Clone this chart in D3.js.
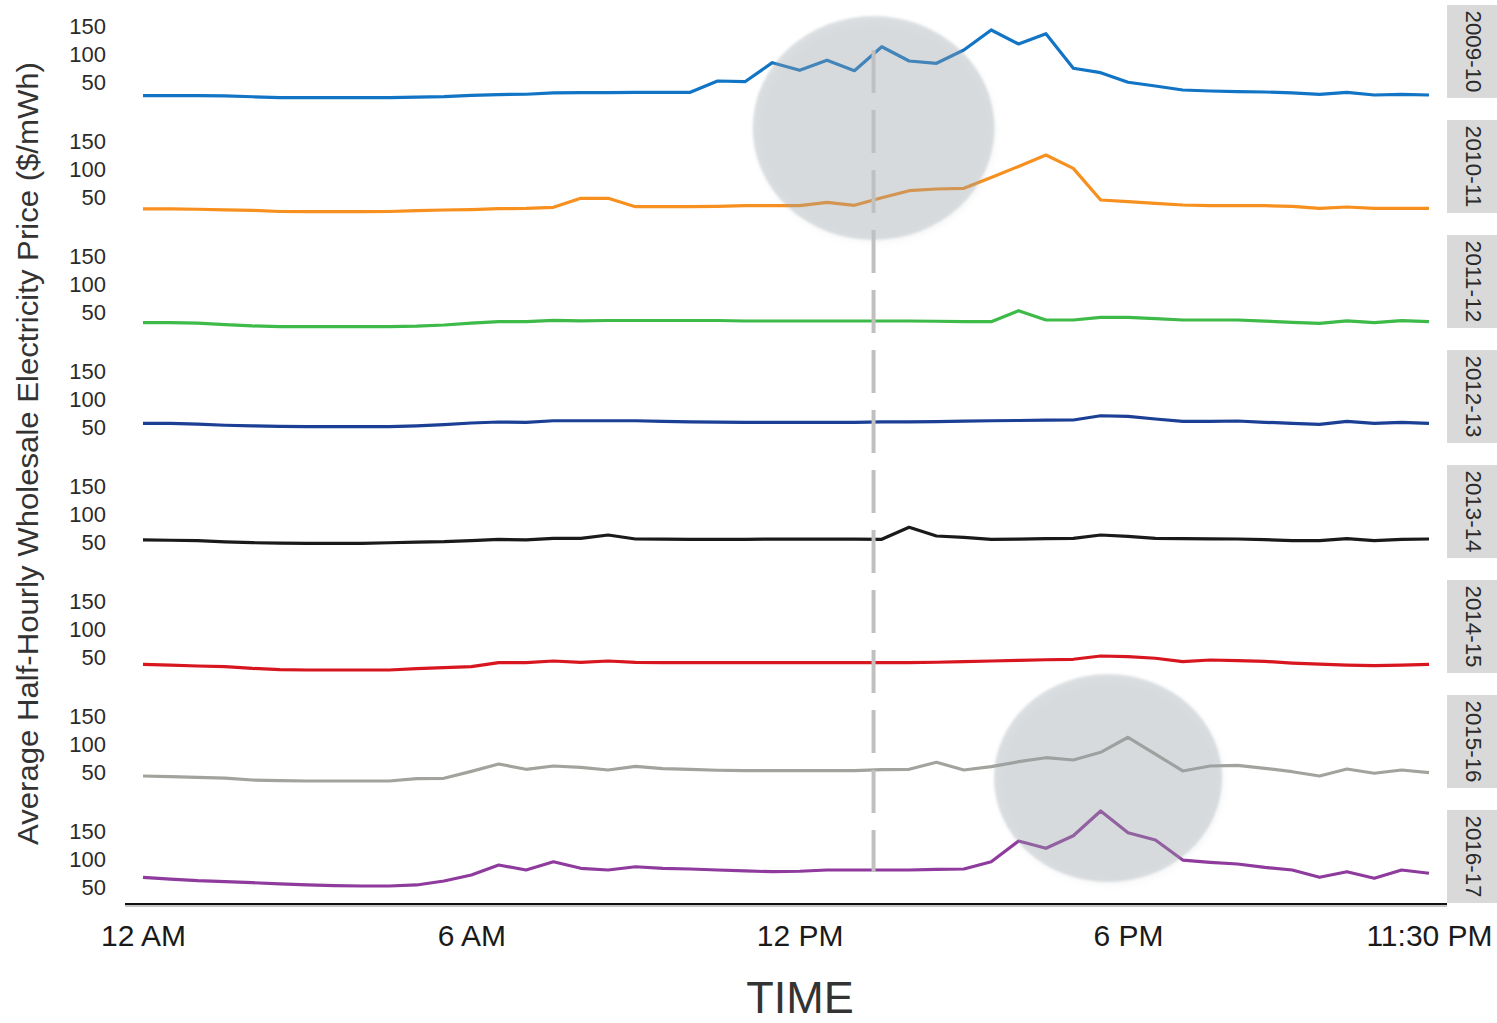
<!DOCTYPE html>
<html>
<head>
<meta charset="utf-8">
<script src="https://cdn.jsdelivr.net/npm/d3@7"></script>
<style>
  html, body { margin: 0; padding: 0; background: #ffffff; }
  svg { display: block; }
  text { font-family: "Liberation Sans", Arial, sans-serif; }
</style>
</head>
<body>
<svg id="chart" width="1497" height="1023"></svg>
<script>
// ---------------- DATA ----------------
const years = ["2009-10", "2010-11", "2011-12", "2012-13", "2013-14", "2014-15", "2015-16", "2016-17"];
const colors = ["#1274c4", "#f7901e", "#3dba48", "#1b3f94", "#1a1a1a", "#d7161f", "#a3a39d", "#8e3b9d"];

// 48 half-hourly averages (12:00 AM ... 11:30 PM), $/MWh
const price2009 = [26.4, 26.4, 26.4, 26, 24.5, 23, 23, 23, 23, 23, 24, 24.6, 27, 28.5, 29, 31.5, 32, 32, 32.5, 32.5,
  32.5, 52.7, 51.4, 85.4, 71.8, 89.6, 71.1, 113.9, 88.4, 84.3, 108, 143.8, 118.8, 137.1, 75.4, 67.5, 50.4, 43.7, 36.6, 34.8,
  33.6, 33, 31.3, 28.9, 32.5, 27.7, 28.9, 27.7];
const price2010 = [29.5, 29.5, 29, 28, 27, 25, 24.6, 24.6, 24.6, 25, 26.5, 27.7, 28.5, 30, 30.5, 32.5, 48.6, 48.6, 33.6, 33.6,
  33.6, 34, 35.4, 35.4, 35.4, 41.4, 36, 49.6, 62.1, 65.2, 66.4, 85.7, 105.5, 125.9, 102, 45.5, 42.5, 39.6, 36.6, 35.4,
  35.4, 35.4, 34, 30.7, 33, 30.7, 30.7, 30.7];
const price2011 = [31.8, 31.8, 31, 28.5, 26, 24.6, 24.6, 24.6, 24.6, 24.6, 25.5, 27.7, 31, 33.6, 33.6, 36, 35, 35.7, 35.7, 35.7,
  35.7, 35.7, 34.8, 34.8, 34.8, 34.8, 34.8, 34.8, 34.8, 34.4, 33.6, 33.6, 53.2, 36.6, 36.6, 41.4, 41.4, 39, 36.6, 36.6,
  36.6, 34.5, 32.5, 30.7, 35, 32, 35.4, 33.6];
const price2012 = [57.5, 57.5, 56, 54, 53, 52, 51.4, 51.4, 51.4, 51.4, 53, 55, 58, 59.8, 59, 62, 62, 62, 62, 61,
  60, 59.5, 59.3, 59.3, 59.3, 59.3, 59.3, 60, 60, 60.5, 61.5, 62, 62.5, 63, 63.4, 71, 70, 65.2, 61, 61,
  61.6, 59.3, 57.5, 55.7, 61, 57.5, 59, 57.5];
const price2013 = [54.5, 54, 53.2, 51, 49.6, 49, 48.5, 48.5, 48.5, 49.5, 50.5, 51.4, 53.5, 55.7, 54.5, 57.5, 57.5, 63.4, 56.2, 56,
  55.7, 55.7, 55.7, 56, 56, 56, 56, 55.7, 77.1, 61.6, 59, 55.7, 56, 57, 57.5, 63.4, 61, 57.5, 57, 56.5,
  56.2, 55, 53.5, 53.2, 56.8, 53.2, 55.5, 56.2];
const price2014 = [37.8, 36.5, 34.8, 33.6, 30.5, 28.5, 27.7, 27.7, 27.7, 27.7, 30, 31.8, 33.6, 40.7, 40.7, 43.7, 41.4, 43.7, 41.4, 41,
  40.7, 40.7, 40.7, 40.7, 40.7, 40.7, 40.7, 41, 41, 41.5, 42.5, 43.7, 45, 46, 46.8, 52.7, 51.4, 48.6, 42.5, 45.5,
  44.5, 43, 40, 38, 36.5, 35.4, 36.5, 37.8];
const price2015 = [43.7, 42.5, 41.4, 40, 36.6, 35.5, 34.8, 34.8, 34.8, 34.8, 39, 39.6, 52, 65.2, 55.7, 61.6, 59.3, 54.5, 61, 57,
  55.5, 54, 53.5, 53.2, 53.2, 53.2, 53.2, 55, 55.7, 68.2, 54.5, 60.4, 69.3, 76.4, 72.3, 86, 112.9, 83, 52.7, 61.6,
  62.8, 57.5, 51.4, 43.7, 56.2, 48.6, 54.5, 49.6];
const price2016 = [68.2, 65, 62.1, 60.5, 58.6, 56.5, 54.5, 53.5, 52.7, 52.7, 54.5, 61.6, 72.3, 90.2, 81.2, 96, 84.3, 81.2, 87, 84.3,
  83, 81.2, 79.5, 78.2, 79, 81.2, 81.2, 81.2, 81.2, 82.5, 83, 96, 133, 120, 142.5, 186.6, 147.9, 134.8, 99, 95,
  92, 86, 81.2, 68.2, 78.2, 66.4, 81.2, 75.4];

const seriesValues = [price2009, price2010, price2011, price2012, price2013, price2014, price2015, price2016];

const yTickValues = [50, 100, 150];
const xTickIndex = [0, 12, 24, 36, 47];
const xTickLabels = ["12 AM", "6 AM", "12 PM", "6 PM", "11:30 PM"];

// annotation: dashed marker (in half-hour index units) and highlight ellipses
const markerIndex = 26.7;
const highlights = [
  { t: 26.7, tr: 4.42, cy: 128, ry: 112 },
  { t: 35.27, tr: 4.17, cy: 778, ry: 104 }
];

// ---------------- LAYOUT ----------------
const svg = d3.select("#chart");
const panelTop0 = 5, panelH = 93, panelPitch = 115;
const plotLeft = 125, plotRight = 1447;

const x = d3.scaleLinear().domain([0, 47]).range([143, 1429]);
const yDomain = [22.3, 188.4];

const defs = svg.append("defs");
const blur = defs.append("filter").attr("id", "soft").attr("x", "-20%").attr("y", "-20%").attr("width", "140%").attr("height", "140%");
blur.append("feGaussianBlur").attr("stdDeviation", 1.0);
const shadow = defs.append("filter").attr("id", "shadow").attr("x", "-20%").attr("y", "-20%").attr("width", "140%").attr("height", "140%");
shadow.append("feGaussianBlur").attr("stdDeviation", 3);

const line = d3.line().x((d, i) => x(i));

years.forEach((yr, p) => {
  const top = panelTop0 + p * panelPitch;
  const y = d3.scaleLinear().domain(yDomain).range([top + panelH, top]);

  // y axis
  const ax = svg.append("g")
    .attr("transform", `translate(110,0)`)
    .call(d3.axisLeft(y).tickValues(yTickValues).tickSize(0).tickPadding(4));
  ax.select(".domain").remove();
  ax.selectAll("text")
    .attr("font-size", 22)
    .attr("fill", "#2b2b2b")
    .style("font-family", "'Liberation Sans', Arial, sans-serif");

  // strip
  svg.append("rect")
    .attr("x", plotRight).attr("y", top)
    .attr("width", 1497 - plotRight).attr("height", panelH)
    .attr("fill", "#d9d9d9");
  svg.append("text")
    .attr("transform", `translate(${plotRight + 19},${top + panelH / 2}) rotate(90)`)
    .attr("text-anchor", "middle")
    .attr("font-size", 22)
    .attr("fill", "#2b2b2b")
    .attr("textLength", 82)
    .attr("lengthAdjust", "spacingAndGlyphs")
    .text(yr);

  // series line
  svg.append("path")
    .datum(seriesValues[p])
    .attr("fill", "none")
    .attr("stroke", colors[p])
    .attr("stroke-width", 3.2)
    .attr("stroke-linejoin", "round")
    .attr("d", line.y(d => y(d)));
});

// highlight ellipses (on top, translucent)
highlights.forEach(h => {
  const cx = x(h.t);
  const rx = x(h.t + h.tr) - cx;
  svg.append("ellipse")
    .attr("cx", cx + 2).attr("cy", h.cy + 3)
    .attr("rx", rx).attr("ry", h.ry)
    .attr("fill", "#8a9094").attr("opacity", 0.07)
    .attr("filter", "url(#shadow)");
  svg.append("ellipse")
    .attr("cx", cx).attr("cy", h.cy)
    .attr("rx", rx).attr("ry", h.ry)
    .attr("fill", "#9ba4ab").attr("opacity", 0.33)
    .attr("filter", "url(#soft)");
});

// dashed marker line
svg.append("line")
  .attr("x1", x(markerIndex)).attr("x2", x(markerIndex))
  .attr("y1", 50).attr("y2", 872)
  .attr("stroke", "#c0c0c0")
  .attr("stroke-width", 4)
  .attr("stroke-dasharray", "43,17");

// x axis
const axisY = 904;
svg.append("line")
  .attr("x1", plotLeft).attr("x2", plotRight)
  .attr("y1", axisY + 2).attr("y2", axisY + 2)
  .attr("stroke", "#c8c8c8").attr("stroke-width", 2);
svg.append("line")
  .attr("x1", plotLeft).attr("x2", plotRight)
  .attr("y1", axisY).attr("y2", axisY)
  .attr("stroke", "#111").attr("stroke-width", 2.2);

const xAx = svg.append("g")
  .attr("transform", `translate(0,${axisY})`)
  .call(d3.axisBottom(x).tickValues(xTickIndex).tickFormat((d, i) => xTickLabels[i]).tickSize(0).tickPadding(21));
xAx.select(".domain").remove();
xAx.selectAll("text")
  .attr("font-size", 30)
  .attr("fill", "#1a1a1a")
  .style("font-family", "'Liberation Sans', Arial, sans-serif");

// axis titles
svg.append("text")
  .attr("x", 800).attr("y", 1013)
  .attr("text-anchor", "middle")
  .attr("font-size", 45)
  .attr("fill", "#333")
  .text("TIME");

svg.append("text")
  .attr("transform", `translate(38,${453.5}) rotate(-90)`)
  .attr("text-anchor", "middle")
  .attr("font-size", 29)
  .attr("fill", "#333")
  .attr("textLength", 783)
  .attr("lengthAdjust", "spacingAndGlyphs")
  .text("Average Half-Hourly Wholesale Electricity Price ($/mWh)");
</script>
</body>
</html>
